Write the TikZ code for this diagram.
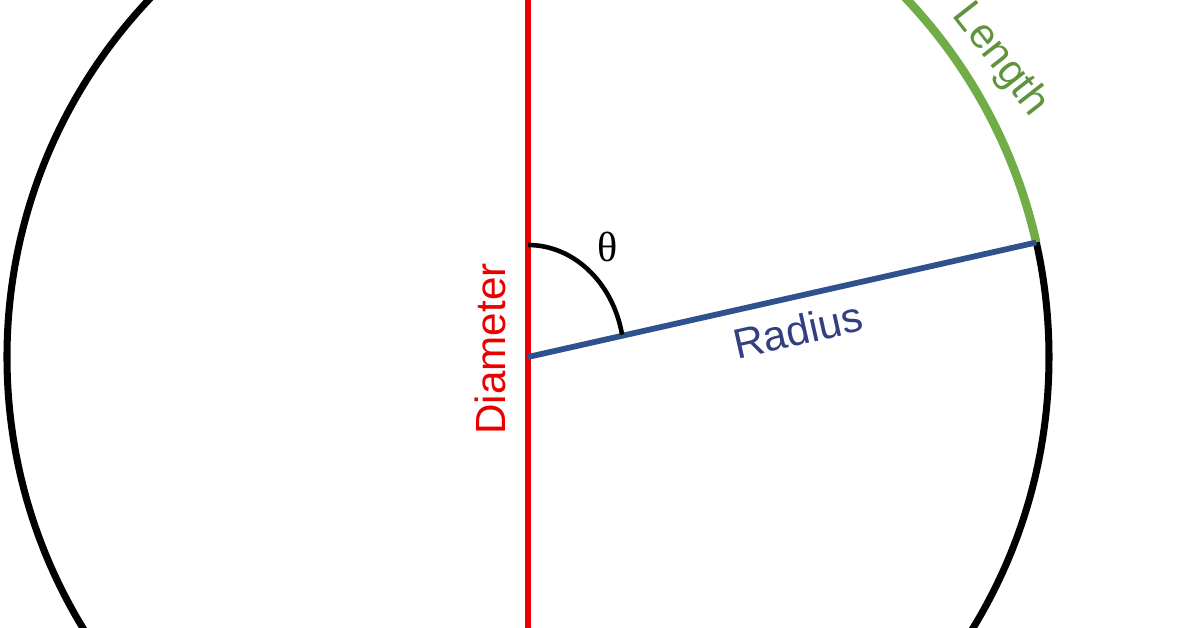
\documentclass[tikz,border=0pt]{standalone}
\usepackage{fontspec}
\setmainfont{Liberation Sans}
\newfontfamily\greekfont{Liberation Serif}
\usetikzlibrary{positioning}
\definecolor{diamred}{RGB}{235, 0, 0}
\definecolor{radiusblue}{RGB}{47, 82, 143}
\definecolor{radiustext}{RGB}{50, 64, 130}
\definecolor{arcgreen}{RGB}{112, 173, 71}

\begin{document}
\begin{tikzpicture}[
    circleline/.style={line width=4pt, black},
    arcline/.style={line width=4.8pt, arcgreen},
    diamline/.style={line width=3.3pt, diamred},
    radline/.style={line width=3.3pt, radiusblue},
    angleline/.style={line width=2.6pt, black},
    labeltext/.style={font=\fontsize{24}{28}\selectfont, inner sep=0pt}
]
    % Frame
    \useasboundingbox (-10.56, -5.42) rectangle (13.36, 7.14);
    \clip (-10.56, -5.42) rectangle (13.36, 7.14);

    % Points
    \coordinate (O) at (0, 0);
    \coordinate (P) at (12.7:10.42);
    \coordinate (top) at (90:10.42);
    \coordinate (bottom) at (-90:10.42);
    \coordinate (a0) at (0, 2.24);

    % Circle
    \draw[circleline] (O) circle (10.42);

    % Arc length
    \draw[arcline] (P) arc[start angle=12.7, end angle=60, radius=10.42];

    % Diameter and radius
    \draw[diamline] (top) -- (bottom);
    \draw[radline] (O) -- (P);

    % Angle
    \draw[angleline] (a0) arc[start angle=90, end angle=11.5, x radius=1.92, y radius=2.24];

    % Labels
    \node[labeltext, diamred, rotate=90] (diam) at (-0.76, 0.16) {Diameter};
    \node[labeltext, radiustext, rotate=12.7] (rad) at (5.40, 0.54) {Radius};
    \node[labeltext, arcgreen!85!black, rotate=-52] (len) at (9.44, 5.94) {Length};
    \node[labeltext, font=\fontsize{24}{28}\selectfont\greekfont] (theta) at (1.60, 2.20) {θ};
\end{tikzpicture}
\end{document}
